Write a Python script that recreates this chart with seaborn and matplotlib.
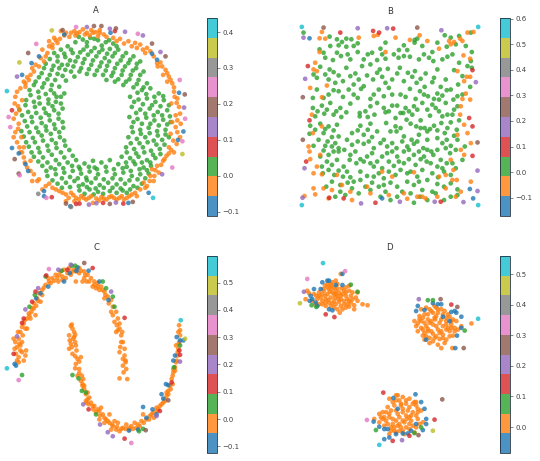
import pandas as pd
import matplotlib
matplotlib.use("Agg")
import matplotlib.pyplot as plt
import seaborn as sns
from matplotlib.colors import Normalize, ListedColormap
from matplotlib.cm import ScalarMappable

sns.set_style("white")

# panel titles and the score range shown on each colour bar
titles = ["A", "B", "C", "D"]
score_lo = [-0.112, -0.172, -0.124, -0.085]
score_hi = [0.439, 0.603, 0.597, 0.560]

# points (x, y in image units, y grows downward), grouped by score
ring = {
    0.025: [(250,120),(272,115),(295,122),(318,128),(340,132),(228,128),(205,140),(185,150),(165,160),(262,140),
            (285,145),(308,150),(330,148),(355,150),(378,160),(400,170),(420,185),(152,178),(175,185),(198,172),
            (220,160),(242,158),(265,165),(290,170),(315,175),(338,170),(362,182),(385,190),(408,205),(430,215),
            (135,205),(158,210),(180,205),(205,195),(228,185),(250,190),(275,195),(300,200),(322,198),(345,205),
            (368,212),(392,225),(415,240),(440,250),(120,232),(145,238),(168,240),(190,228),(215,215),(240,215),
            (262,222),(285,225),(310,225),(335,228),(355,238),(378,245),
            (238,112),(262,128),(284,118),(306,138),(328,122),(350,140),(215,150),(195,162),(175,170),(252,150),
            (275,155),(298,158),(322,162),(345,160),(368,170),(390,180),(410,192),(140,192),(163,198),(188,195),
            (212,182),(235,172),(255,178),(280,182),(305,188),(328,185),(352,192),(375,200),(398,212),(420,225),
            (128,220),(152,225),(175,222),(198,210),(222,200),(245,205),(268,208),(292,212),(318,212),(340,218),
            (365,225),(388,238),(410,252),(430,262),(110,245),(135,250),(158,255),(200,242),(225,230),(320,240),
            (345,245),(370,255),
            (105,255),(130,262),(155,270),(180,260),(95,285),(120,292),(148,298),(172,290),(195,280),(80,315),
            (108,320),(135,325),(160,318),(185,310),(70,345),(98,350),(125,352),(150,345),(178,340),(85,378),
            (112,382),(140,378),(165,372),(190,365),(75,408),(102,412),(128,405),(155,400),(180,395),(90,438),
            (118,442),(145,435),(170,428),(195,420),(105,468),(132,470),(158,462),(185,455),(210,448),
            (92,270),(118,275),(140,282),(165,280),(185,290),(82,300),(105,305),(122,310),(148,310),(170,305),
            (62,328),(88,335),(112,338),(140,338),(165,330),(190,325),(78,362),(100,365),(128,368),(152,360),
            (178,355),(68,392),(92,395),(118,395),(142,390),(168,385),(192,382),(82,425),(108,425),(132,420),
            (158,418),(182,410),(98,455),(122,455),(148,450),(172,442),(198,435),(118,482),(145,485),(170,478),
            (195,470),(220,465),
            (400,262),(425,270),(450,265),(475,280),(390,290),(415,298),(440,295),(465,305),(490,300),(395,320),
            (420,328),(448,325),(472,335),(500,330),(388,350),(412,356),(438,352),(462,360),(488,358),(510,365),
            (395,380),(420,388),(445,382),(470,392),(495,388),(385,410),(410,415),(435,410),(460,420),(485,418),
            (505,410),(378,440),(402,445),(428,440),(452,450),(478,445),(365,468),(390,472),(415,468),(440,478),
            (465,472),
            (412,278),(438,282),(462,290),(488,288),(402,305),(428,312),(455,315),(480,318),(505,315),(408,338),
            (435,340),(460,345),(485,345),(508,348),(400,365),(425,370),(450,370),(475,375),(500,372),(398,395),
            (422,400),(448,398),(472,405),(495,402),(392,428),(418,428),(442,425),(468,432),(492,432),(380,455),
            (408,458),(432,455),(458,462),(480,460),(378,485),(400,482),(425,485),(450,485),
            (130,495),(155,500),(180,490),(205,485),(230,478),(255,488),(280,480),(305,485),(330,478),(355,490),
            (380,498),(405,490),(430,500),(452,495),(145,525),(170,520),(195,515),(220,510),(245,518),(270,512),
            (295,520),(320,512),(345,520),(370,515),(395,525),(420,520),(445,518),(175,548),(200,545),(225,540),
            (250,550),(275,545),(300,552),(325,545),(350,550),(375,548),(400,555),(425,548),(240,568),(270,565),
            (295,572),(330,570),(380,575),(260,530),(285,500),(238,498),
            (142,510),(168,505),(192,502),(218,495),(242,505),(268,498),(292,505),(318,498),(342,505),(368,502),
            (392,510),(418,505),(440,508),(160,538),(188,532),(212,528),(235,532),(262,538),(288,532),(312,535),
            (338,532),(362,535),(388,538),(412,535),(435,532),(188,560),(212,558),(238,555),(262,558),(288,562),
            (312,560),(338,560),(362,562),(390,565),(412,560),(255,578),(282,580),(310,578),(350,575),(368,568)],
    -0.03: [(185,95),(200,100),(210,112),(225,95),(240,98),(250,90),(262,100),(275,92),(288,98),(300,92),
            (312,105),(295,110),(270,108),(340,115),(360,118),(385,125),(405,130),(420,135),(165,115),(150,125),
            (175,130),(228,108),(195,108),(215,100),(232,102),(256,105),(280,100),(300,100),(320,112),(350,125),
            (372,132),(395,140),(182,118),(160,135),(410,145),(428,150),
            (440,145),(460,170),(480,188),(472,200),(495,210),(505,230),(488,225),(515,250),(500,245),(435,160),
            (450,155),(470,190),(485,200),(500,220),(510,240),(520,262),(522,290),(528,308),(538,340),(530,360),
            (525,380),(538,410),(518,420),(512,448),(505,458),(492,475),(482,492),(465,508),(462,525),(448,540),
            (435,560),
            (520,275),(530,295),(512,310),(535,320),(525,345),(540,370),(515,365),(530,395),(510,400),(528,430),
            (505,440),(520,455),(498,465),(488,480),(470,495),(455,505),(475,515),(450,525),(460,540),(440,555),
            (430,545),(420,565),
            (160,560),(180,570),(200,580),(215,575),(230,590),(245,585),(260,595),(275,585),(290,592),(305,588),
            (320,595),(335,585),(350,595),(365,585),(380,590),(395,580),(410,585),(200,600),(225,600),(280,605),
            (170,565),(190,575),(208,590),(222,582),(238,595),(252,590),(268,590),(298,598),(312,592),(328,588),
            (342,590),(358,590),(372,595),(388,585),(405,575),(150,548),(115,540),(95,510),(78,485),
            (75,470),(95,480),(85,500),(105,520),(120,535),(100,540),(140,555),(130,565),(65,455),
            (55,275),(70,300),(48,310),(62,330),(45,355),(60,370),(50,395),(68,410),(55,425),(75,440),(80,260),
            (50,290),(58,318),(52,340),(58,385),(45,410),(62,440),(70,455),(65,265),(75,245),(85,232),
            (90,240),(105,215),(95,225),(120,200),(135,185),(145,160),(130,150),(160,145),(80,250),
            (100,205),(110,195),(125,175),(140,170),(150,140),(170,122)],
    -0.085: [(195,105),(332,100),(455,162),(470,180),(98,190),(120,170),(70,225),(535,278),(40,442),(548,393),
             (532,418),(60,458),(80,490),(88,510),(135,570),(135,585),(445,575),(213,615),(385,605)],
    0.08: [(40,330),(158,588),(230,608),(240,607),(310,605),(370,607),(345,95)],
    0.135: [(262,83),(375,97),(428,108),(480,157),(55,230),(550,322),(485,520),(268,610),(290,606),(348,604),(330,88)],
    0.19: [(283,80),(305,80),(348,87),(190,92),(455,132),(495,170),(88,160),(552,283),(48,475),(60,518),
           (200,607),(330,608),(398,602)],
    0.245: [(230,83),(413,103),(112,133),(537,240),(30,350),(35,380),(553,355),(545,422),(63,523),(515,500),(142,590)],
    0.30: [(118,578),(215,617)],
    0.355: [(158,93),(62,188),(545,460)],
    0.41: [(25,273),(458,590)],
}

square = {
    0.022: [(178,112),(200,120),(228,118),(243,120),(432,122),(440,118),(522,108),(565,110),(600,100),
            (148,150),(180,140),(205,138),(228,142),(262,132),(330,148),(385,152),(410,152),(432,130),(485,158),
            (528,142),(555,135),(603,158),
            (165,175),(188,182),(212,170),(240,180),(262,158),(292,165),(320,182),(345,178),(384,175),(418,172),
            (460,165),(488,185),(515,180),(545,165),(600,185),
            (130,225),(150,202),(178,210),(205,228),(228,205),(255,222),(275,200),(300,195),(328,210),(352,208),
            (388,205),(412,220),(433,215),(465,222),(500,210),(525,240),(550,212),(603,205),
            (175,240),(195,250),(218,245),(250,255),(280,260),(308,240),(335,232),(365,240),(400,245),(438,250),
            (462,262),(485,248),(510,262),(540,270),(562,255),(598,262),
            (128,295),(160,295),(190,272),(218,292),(250,285),(272,268),(300,298),(325,270),(355,265),(390,285),
            (418,268),(448,275),(472,290),(500,282),(528,272),(548,300),(575,285),
            (128,325),(155,318),(180,310),(210,325),(240,312),(268,340),(300,320),(320,310),(355,335),(380,318),
            (405,325),(430,320),(455,310),(485,315),(505,300),(525,310),(560,320),
            (135,350),(162,342),(190,345),(213,352),(268,350),(292,352),(312,345),(345,338),(375,355),(398,340),
            (425,345),(450,362),(478,348),(505,335),(530,345),(550,330),
            (120,378),(150,372),(175,380),(200,375),(270,378),(300,372),(347,370),(375,380),(408,360),(437,380),
            (462,385),(490,378),(512,370),(540,368),(565,362),
            (118,402),(160,400),(185,412),(205,410),(245,400),(280,405),(305,412),(340,420),(378,395),(400,410),
            (423,420),(445,405),(470,395),(500,392),(522,400),(550,408),
            (130,438),(165,438),(185,440),(205,445),(245,435),(280,432),(310,445),(350,440),(378,445),(410,440),
            (430,432),(458,445),(482,455),(515,430),(540,438),(582,440),
            (150,470),(175,465),(205,455),(240,465),(270,478),(290,470),(320,485),(350,460),(380,470),(400,455),
            (430,465),(460,470),(488,465),(510,480),(538,460),(575,480),
            (155,500),(185,495),(220,500),(258,490),(300,490),(335,505),(370,498),(400,490),(435,495),(468,485),
            (500,500),(528,490),(555,505),
            (158,520),(192,525),(218,530),(240,532),(290,528),(310,530),(340,535),(375,525),(410,520),(440,530),
            (470,540),(502,532),(540,525),
            (168,560),(210,555),(250,545),(285,560),(325,560),(360,548),(395,575),(430,555),(455,570),(485,575),
            (520,560),(560,568),
            (195,590),(225,585),(265,580),(330,590),(360,600),(430,608),(448,590),(470,600),(520,600),(560,585),
            (100,100),
            (215,128),(250,140),(345,130),(400,138),(455,140),(500,130),(540,115),(585,140),
            (160,160),(200,160),(232,165),(280,180),(305,160),(335,165),(370,165),(400,170),(445,180),(475,175),
            (530,172),(565,190),(590,200),
            (140,235),(165,225),(190,218),(240,230),(265,240),(290,228),(320,220),(345,250),(380,222),(425,232),
            (450,238),(490,235),(575,230),
            (140,270),(175,285),(205,275),(235,270),(262,295),(310,285),(340,290),(365,285),(405,292),(435,298),
            (460,285),(490,298),(515,288),(560,290),
            (142,335),(170,330),(198,335),(228,338),(285,335),(340,325),(365,318),(390,340),(415,335),(440,330),
            (470,330),(495,325),(515,350),(545,345),
            (135,390),(165,388),(190,392),(262,392),(292,390),(320,395),(360,395),(390,385),(420,372),(450,385),
            (478,388),(530,385),(558,390),
            (145,420),(172,425),(195,430),(230,420),(262,425),(295,425),(330,430),(365,430),(395,425),(440,425),
            (470,420),(500,415),(528,420),(560,420),
            (160,452),(190,455),(222,450),(255,455),(305,460),(335,470),(365,455),(415,450),(445,455),(470,450),
            (500,450),(525,445),(555,450),
            (170,485),(200,480),(238,480),(280,485),(310,500),(355,485),(385,485),(415,478),(450,478),(480,490),
            (515,505),(545,490),
            (175,510),(205,512),(230,515),(270,515),(325,520),(355,515),(390,510),(420,515),(455,510),(485,520),
            (520,515),
            (185,545),(232,548),(270,540),(305,548),(340,555),(380,560),(410,545),(445,545),(500,552),(540,550),
            (210,575),(245,565),(300,570),(345,575),(380,590),(420,580),(495,580),(540,590)],
    -0.056: [(155,98),(148,117),(165,118),(265,115),(310,110),(322,107),(375,115),(418,122),(447,108),(470,125),
             (535,125),(550,128),(568,118),(590,100),(608,98),(575,125),(540,135),(505,148),(578,168),(598,178),
             (560,215),(588,232),(598,232),(580,245),(575,298),(598,300),(568,345),(580,375),(560,405),(600,430),
             (570,450),(580,465),(540,480),(548,510),(558,540),(600,545),(570,575),(525,565),(500,590),(465,595),
             (440,590),(400,580),(355,585),(300,580),(245,600),(240,575),(185,570),(160,565),(130,565),(103,588),
             (135,583),(118,455),(120,478),(130,520),(150,465),(140,500),(155,523),(115,440),(155,380),(128,400),
             (155,293),(120,265),(130,210),(140,215),(135,190),(148,158),(170,258),(345,158),(290,560),(335,515),
             (365,530),(430,517),(525,525),(505,530),(545,540),(555,590),(455,590),(410,596),(215,555),(200,525),
             (175,595),(570,320),(590,400),(585,282),(125,345)],
    -0.133: [(118,117),(597,567),(335,595),(607,595)],
    0.099: [(210,100),(308,95),(326,100),(368,88),(113,200),(605,212),(118,362),(605,380),(108,485),(595,355),
            (605,468),(177,593),(220,595),(315,608),(510,605)],
    0.177: [(262,87),(350,87),(512,93),(100,115),(105,238),(615,248),(103,505),(620,512),(620,573),(97,593),
            (272,610),(388,605),(492,605),(578,606)],
    0.254: [(160,85),(440,85),(98,293),(98,420),(620,428)],
    0.564: [(95,83),(622,83),(95,615),(622,615)],
}

moons = {
    -0.016: [(50,340),(55,355),(60,330),(65,310),(70,295),(75,285),(85,270),(90,255),(100,240),(105,225),
             (115,210),(120,195),(130,185),(140,170),(150,160),(160,150),(170,140),(185,130),(195,125),(210,120),
             (225,125),(240,120),(255,130),(265,140),(275,150),(285,160),(295,165),(305,175),(315,190),(325,205),
             (335,215),(340,235),(350,250),(355,270),(360,285),(360,300),(365,320),(370,340),(375,360),(375,380),
             (378,400),(380,420),(360,448),(383,450),(65,350),(70,370),(60,385),(75,395),(80,380),(85,300),
             (95,270),(110,260),(105,240),(125,220),(148,150),(175,150),(190,155),(200,150),(215,140),(230,160),
             (255,150),(262,160),(280,175),(290,180),(300,185),(315,210),(335,250),(345,280),(350,310),(365,340),
             (378,395),(370,410),(230,130),(250,160),(45,330),(58,310),(55,395),(70,340),(190,145),(240,135),
             (360,370),
             (48,360),(62,345),(72,320),(80,300),(78,275),(92,262),(98,250),(112,232),(118,218),(130,200),
             (135,178),(155,165),(165,158),(180,140),(178,160),(205,135),(220,130),(245,128),(258,140),(270,160),
             (285,170),(295,175),(310,185),(318,200),(328,225),(340,260),(352,290),(355,305),(368,310),(362,355),
             (370,390),(372,430),(65,365),(52,375),(82,365),(60,400),
             (215,292),(220,300),(210,320),(225,325),(215,345),(230,350),(210,360),(220,375),(235,390),(230,405),
             (240,420),(235,440),(245,455),(250,465),(255,480),(260,495),(265,510),(270,505),(275,520),(285,530),
             (295,540),(305,535),(310,555),(320,570),(330,580),(340,590),(350,600),(360,605),(370,595),(380,585),
             (395,590),(405,580),(415,585),(425,575),(440,570),(450,560),(460,550),(470,545),(480,530),(490,520),
             (500,500),(505,485),(510,470),(515,450),(520,430),(525,415),(528,400),(532,380),(535,360),(538,340),
             (535,310),(537,290),(245,385),(225,310),(250,470),(262,520),(300,545),(315,580),(335,600),(355,580),
             (390,600),(410,595),(430,555),(455,555),(470,535),(495,510),(500,490),(518,440),(520,420),(528,350),
             (540,320),(260,515),(280,530),(300,570),(330,555),(345,575),(232,365),(222,330),(248,440),
             (218,288),(228,318),(212,335),(228,340),(218,355),(228,382),(240,398),(228,418),(240,432),(252,450),
             (255,470),(265,490),(268,525),(282,540),(290,548),(302,558),(315,565),(325,575),(338,585),(352,592),
             (365,598),(378,598),(388,595),(400,598),(420,590),(432,580),(448,570),(462,565),(475,540),(485,525),
             (495,515),(505,495),(512,480),(518,465),(525,425),(530,395),(533,370),(536,345),(540,305)],
    -0.088: [(48,405),(52,410),(112,210),(125,195),(148,175),(195,160),(212,135),(232,128),(268,128),(300,160),
             (327,215),(235,118),
             (530,325),(550,335),(525,380),(520,395),(498,465),(485,495),(490,508),(458,540),(470,555),(430,533),
             (440,565),(388,603),(415,600),(505,468),(540,335)],
    0.056: [(70,438),(92,235),(108,200),(140,145),(188,128),(218,113),(228,113),(310,160),(340,205),(345,235),
            (320,180),(220,438),(238,448),(248,485),(290,555),(418,605),(430,598),(540,350),(522,415),(260,490)],
    0.128: [(45,375),(70,283),(75,270),(100,220),(110,190),(142,142),(205,125),(280,120),(375,268),
            (540,378),(268,540),(375,627),(480,545),(515,460),(538,365)],
    0.200: [(55,323),(80,243),(118,180),(178,125),(215,110),(335,190),
            (252,525),(302,585),(325,608),(340,620),(470,560),(540,398)],
    0.272: [(255,105),(505,513),(438,602)],
    0.344: [(60,453),(150,123),(395,640)],
    0.489: [(555,330)],
    0.561: [(25,418),(542,275)],
}

blobs = {
    0.012: [(175,165),(185,170),(195,175),(180,180),(165,185),(200,185),(210,190),(190,190),(175,195),(160,195),
            (150,200),(220,195),(230,200),(240,185),(245,200),(205,200),(185,205),(170,210),(195,215),(215,210),
            (225,215),(160,215),(145,210),(180,220),(200,225),(215,230),(235,225),(245,220),(255,228),(220,240),
            (205,240),(185,230),(135,195),(115,185),(110,210),(130,215),(260,205),(265,190),(240,170),(230,175),
            (215,135),(295,228),(250,190),(190,160),(200,155),(150,190),(170,230),(160,225),(225,185),(175,175),
            (195,195),(210,218),(230,235),(140,225),(255,240),
            (168,170),(188,178),(205,178),(182,188),(168,200),(198,205),(215,200),(235,210),(250,210),(178,212),
            (190,222),(208,210),(225,225),(240,232),(170,220),(155,205),(142,200),(120,192),(230,190),(218,178),
            (200,195),(162,180),(185,165),(240,215),(150,225),(265,215),(280,225),(205,165),(195,235),(212,250),
            (470,235),(480,240),(495,230),(505,240),(490,250),(465,255),(450,260),(435,275),(455,275),(475,270),
            (500,260),(520,255),(540,262),(550,270),(530,275),(510,280),(490,285),(470,290),(455,295),(445,305),
            (465,310),(485,305),(505,300),(520,290),(545,285),(555,295),(540,305),(520,315),(500,320),(480,325),
            (465,330),(490,335),(510,328),(530,330),(550,318),(480,340),(515,355),(548,355),(575,290),(605,282),
            (560,275),(525,245),(455,240),(440,290),(460,318),(497,270),(515,305),(535,295),(475,305),(505,345),
            (565,300),
            (485,245),(475,255),(505,250),(495,265),(485,275),(460,265),(445,282),(465,280),(480,280),(515,270),
            (530,265),(545,275),(500,290),(475,298),(530,285),(510,310),(490,312),(530,300),(545,295),(520,325),
            (495,325),(470,320),(525,340),(540,320),(555,305),(460,300),(500,235),(515,240),(535,255),(450,270),
            (360,505),(380,510),(400,500),(420,505),(435,515),(395,520),(375,525),(355,530),(340,545),(360,550),
            (380,540),(400,535),(420,530),(440,525),(455,540),(430,545),(410,555),(390,560),(370,565),(350,570),
            (330,575),(345,585),(365,590),(385,585),(405,575),(425,570),(445,565),(460,575),(440,590),(420,595),
            (400,600),(380,605),(360,610),(330,550),(315,565),(390,580),(410,520),(405,610),(435,605),(345,560),
            (370,580),(420,580),(385,495),(440,515),(375,600),
            (370,515),(390,510),(410,510),(430,520),(365,540),(385,550),(400,545),(415,540),(425,555),(445,545),
            (400,570),(380,570),(360,560),(340,565),(355,580),(375,590),(395,590),(410,590),(430,585),(450,580),
            (420,560),(440,555),(395,525),(365,600),(390,600),(350,545),(335,560),(445,535),(380,495),(412,565)],
    -0.053: [(160,160),(175,155),(180,155),(200,168),(220,168),(135,180),(125,200),(122,215),(130,210),(145,230),
             (180,240),(190,243),(155,180),(220,135),(140,220),
             (445,230),(465,242),(490,222),(505,225),(515,225),(545,248),(555,245),(560,250),(520,262),(575,262),
             (575,295),(562,318),(470,330),(440,245),(557,355),(540,275),
             (372,503),(438,492),(455,515),(465,535),(470,565),(440,580),(470,580),(460,598),(415,608),(400,608),
             (380,610),(360,620),(345,625),(355,595),(345,595),(330,588),(313,573),(385,535),(425,600)],
    0.077: [(245,167),(265,188),(128,228),(142,233),(475,213),(490,213),(585,303),(320,598),(435,607),(455,590)],
    0.141: [(170,255),(196,263),(545,226),(342,487),(370,630),(420,615),(495,567)],
    0.206: [(105,188),(448,210),(398,628)],
    0.270: [(513,210),(563,233),(582,355),(518,507),(447,613)],
    0.335: [(115,150),(228,127),(293,568)],
    0.464: [(93,222),(490,600)],
    0.528: [(162,103),(625,268),(330,642)],
}

panels = [ring, square, moons, blobs]

# figure-pixel boxes (left, top, right, bottom) for each scatter axes and its colour bar
W, H = 540, 461
ax_boxes = [(-2, 17, 194, 216), (293, 18, 487, 214), (-2, 254, 194, 452), (291, 254, 487, 454)]
cb_boxes = [(207, 18, 217, 216), (500, 18, 510, 216), (207, 256, 217, 453), (500, 256, 510, 453)]


def to_rect(box):
    l, t, r, b = box
    return [l / W, (H - b) / H, (r - l) / W, (b - t) / H]


base = plt.get_cmap("tab10")
cmap = ListedColormap([(*base(i)[:3], 0.8) for i in range(10)])

fig = plt.figure(figsize=(W / 72, H / 72), dpi=72)

for i, groups in enumerate(panels):
    rows = [(x, y, s) for s, pts in groups.items() for x, y in pts]
    df = pd.DataFrame(rows, columns=["x", "y", "score"])
    norm = Normalize(vmin=score_lo[i], vmax=score_hi[i])

    ax = fig.add_axes(to_rect(ax_boxes[i]))
    sns.scatterplot(data=df, x="x", y="y", hue="score", palette=cmap, hue_norm=norm,
                    s=22, linewidth=0, legend=False, ax=ax)
    ax.invert_yaxis()
    ax.set_axis_off()
    ax.set_title(titles[i], fontsize=8.5, color="0.2", pad=4)

    cax = fig.add_axes(to_rect(cb_boxes[i]))
    cb = fig.colorbar(ScalarMappable(norm=norm, cmap=cmap), cax=cax)
    cb.ax.tick_params(labelsize=7, colors="0.25", length=3, width=0.6, pad=2)
    cb.outline.set_linewidth(0.8)
    cb.outline.set_edgecolor("#1b2a3a")

fig.savefig("out.png", dpi=72)
